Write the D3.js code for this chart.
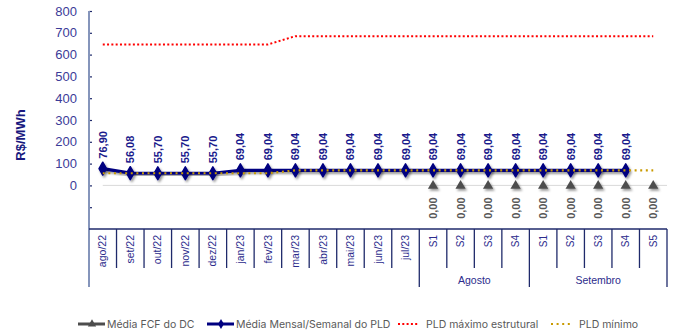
<!DOCTYPE html>
<html>
<head>
<meta charset="utf-8">
<script src="https://cdn.jsdelivr.net/npm/d3@7"></script>
<style>
  html, body { margin: 0; padding: 0; background: #fff; }
  svg { display: block; }
</style>
</head>
<body>
<svg id="chart" width="675" height="335"></svg>
<script>
// Periods on the category axis: monthly averages, then weekly values
const periods = ["ago/22", "set/22", "out/22", "nov/22", "dez/22", "jan/23", "fev/23",
  "mar/23", "abr/23", "mai/23", "jun/23", "jul/23",
  "S1", "S2", "S3", "S4",
  "S1", "S2", "S3", "S4", "S5"];

// Week groups under the weekly periods (name and number of weeks)
const weekGroups = ["Agosto", "Setembro"];
const weeksPerGroup = [4, 5];

// Média Mensal/Semanal do PLD (R$/MWh)
const pldMedio = [76.90, 56.08, 55.70, 55.70, 55.70, 69.04, 69.04,
  69.04, 69.04, 69.04, 69.04, 69.04,
  69.04, 69.04, 69.04, 69.04,
  69.04, 69.04, 69.04, 69.04, null];

// Média FCF do DC (R$/MWh)
const fcfDC = [null, null, null, null, null, null, null,
  null, null, null, null, null,
  0, 0, 0, 0,
  0, 0, 0, 0, 0];

// PLD máximo estrutural (R$/MWh)
const pldMax = [646.58, 646.58, 646.58, 646.58, 646.58, 646.58, 646.58,
  684.73, 684.73, 684.73, 684.73, 684.73,
  684.73, 684.73, 684.73, 684.73,
  684.73, 684.73, 684.73, 684.73, 684.73];

// PLD mínimo (R$/MWh)
const pldMin = [55.70, 55.70, 55.70, 55.70, 55.70, 55.70, 55.70,
  69.04, 69.04, 69.04, 69.04, 69.04,
  69.04, 69.04, 69.04, 69.04,
  69.04, 69.04, 69.04, 69.04, 69.04];

const yTicks = [-100, 0, 100, 200, 300, 400, 500, 600, 700, 800];

const fmt = v => d3.format(".2f")(v).replace(".", ",");

const svg = d3.select("#chart");
const plot = { left: 89, right: 667, top: 11, axisY: 229 };

const x = d3.scaleBand().domain(d3.range(periods.length)).range([plot.left, plot.right]).padding(0);
const cx = i => x(i) + x.bandwidth() / 2;
const y = d3.scaleLinear().domain([-200, 800]).range([plot.axisY, plot.top]);

const defs = svg.append("defs");
const f = defs.append("filter").attr("id", "shadow")
  .attr("x", "-50%").attr("y", "-50%").attr("width", "200%").attr("height", "200%");
f.append("feDropShadow").attr("dx", 1.5).attr("dy", 2).attr("stdDeviation", 1.1)
  .attr("flood-color", "#000").attr("flood-opacity", 0.4);

const labelFont = "'Liberation Sans', Arial, sans-serif";

// zero gridline
svg.append("line")
  .attr("x1", cx(0)).attr("x2", plot.right)
  .attr("y1", y(0)).attr("y2", y(0))
  .attr("stroke", "#d9d9d9").attr("stroke-width", 1);

// y axis
const yAxis = svg.append("g").attr("transform", `translate(${plot.left},0)`)
  .call(d3.axisLeft(y).tickValues(yTicks).tickSize(-3).tickPadding(12)
    .tickFormat(d => d >= 0 ? d : ""));
yAxis.select(".domain").remove();
yAxis.selectAll(".tick line").attr("stroke", "#1f2a6b").attr("stroke-width", 1.2);
yAxis.selectAll(".tick text")
  .attr("fill", "#3b3b98").attr("font-size", 13).attr("font-family", labelFont);

svg.append("line")
  .attr("x1", plot.left).attr("x2", plot.left)
  .attr("y1", plot.top).attr("y2", 287)
  .attr("stroke", "#8595bb").attr("stroke-width", 2);

svg.append("text")
  .attr("transform", `translate(25,135) rotate(-90)`)
  .attr("text-anchor", "middle")
  .attr("font-family", labelFont).attr("font-size", 13).attr("font-weight", "bold")
  .attr("fill", "#1a1a80")
  .text("R$/MWh");

// category axis
const axisColor = "#1f2a6b";
svg.append("line")
  .attr("x1", plot.left).attr("x2", plot.right)
  .attr("y1", plot.axisY).attr("y2", plot.axisY)
  .attr("stroke", axisColor).attr("stroke-width", 1.5);

// group boundaries (indices where a week group starts/ends)
const nMonths = periods.length - d3.sum(weeksPerGroup);
const groupStarts = [];
let acc = nMonths;
weeksPerGroup.forEach(n => { groupStarts.push(acc); acc += n; });
const groupEdges = new Set([...groupStarts, periods.length]);

d3.range(1, periods.length + 1).forEach(i => {
  const xx = i === periods.length ? plot.right : x(i);
  svg.append("line")
    .attr("x1", xx).attr("x2", xx)
    .attr("y1", plot.axisY).attr("y2", groupEdges.has(i) ? 287 : 268)
    .attr("stroke", axisColor).attr("stroke-width", 1.3);
});

svg.append("g").selectAll("text").data(periods).join("text")
  .attr("transform", (d, i) => `translate(${cx(i) + 3.6},235) rotate(-90)`)
  .attr("text-anchor", "end")
  .attr("font-family", labelFont)
  .attr("font-size", (d, i) => i < nMonths ? 10.5 : 10)
  .attr("fill", "#2b2b8c")
  .text(d => d);

svg.append("g").selectAll("text").data(weekGroups).join("text")
  .attr("x", (d, k) => {
    const a = x(groupStarts[k]);
    const end = groupStarts[k] + weeksPerGroup[k];
    const b = end >= periods.length ? plot.right : x(end);
    return (a + b) / 2;
  })
  .attr("y", 284)
  .attr("text-anchor", "middle")
  .attr("font-family", labelFont).attr("font-size", 10.5)
  .attr("fill", "#2b2b8c")
  .text(d => d);

// series lines
const line = d3.line().defined(d => d.v != null).x(d => cx(d.i)).y(d => y(d.v));
const asPts = arr => arr.map((v, i) => ({ i, v }));

svg.append("path").datum(asPts(pldMax))
  .attr("d", line).attr("fill", "none")
  .attr("stroke", "#ff0000").attr("stroke-width", 2).attr("stroke-dasharray", "2,2.3");

const medPts = asPts(pldMedio).filter(d => d.v != null);
svg.append("path").datum(medPts)
  .attr("d", line).attr("fill", "none")
  .attr("stroke", "#000080").attr("stroke-width", 3.2).attr("filter", "url(#shadow)");

const fcfPts = asPts(fcfDC).filter(d => d.v != null);
svg.append("path").datum(fcfPts)
  .attr("d", line).attr("fill", "none")
  .attr("stroke", "#4d4d4d").attr("stroke-width", 3.2).attr("filter", "url(#shadow)");

svg.append("g").selectAll("path").data(fcfPts).join("path")
  .attr("transform", d => `translate(${cx(d.i)},${y(d.v) + 0.5})`)
  .attr("d", d3.symbol(d3.symbolTriangle, 46))
  .attr("fill", "#4d4d4d").attr("filter", "url(#shadow)");

svg.append("g").selectAll("path").data(medPts).join("path")
  .attr("transform", d => `translate(${cx(d.i)},${y(d.v)})`)
  .attr("d", d3.symbol(d3.symbolDiamond, 48))
  .attr("fill", "#000080").attr("stroke", "#000080").attr("stroke-width", 1.5)
  .attr("stroke-linejoin", "round").attr("filter", "url(#shadow)");

svg.append("path").datum(asPts(pldMin))
  .attr("d", line).attr("fill", "none")
  .attr("stroke", "#c99a00").attr("stroke-width", 2.2).attr("stroke-dasharray", "2,3.6");

// data labels
svg.append("g").selectAll("text").data(medPts).join("text")
  .attr("transform", d => `translate(${cx(d.i) + 4},${y(d.v) - 10}) rotate(-90)`)
  .attr("text-anchor", "start")
  .attr("font-family", labelFont).attr("font-size", 11).attr("font-weight", "bold")
  .attr("fill", "#1a1a8c")
  .text(d => fmt(d.v));

svg.append("g").selectAll("text").data(fcfPts).join("text")
  .attr("transform", d => `translate(${cx(d.i) + 4},${y(d.v) + 12}) rotate(-90)`)
  .attr("text-anchor", "end")
  .attr("font-family", labelFont).attr("font-size", 11).attr("font-weight", "bold")
  .attr("fill", "#595959")
  .text(d => fmt(d.v));

// legend
const legendItems = [
  { name: "Média FCF do DC", color: "#4d4d4d", kind: "tri", x: 78 },
  { name: "Média Mensal/Semanal do PLD", color: "#000080", kind: "dia", x: 207 },
  { name: "PLD máximo estrutural", color: "#ff0000", kind: "dot", x: 398 },
  { name: "PLD mínimo", color: "#c99a00", kind: "dot", x: 551 }
];
const ly = 324;
const lg = svg.append("g");
legendItems.forEach(it => {
  const g = lg.append("g");
  if (it.kind === "dot") {
    g.append("line").attr("x1", it.x).attr("x2", it.x + 21).attr("y1", ly).attr("y2", ly)
      .attr("stroke", it.color).attr("stroke-width", 2)
      .attr("stroke-dasharray", it.color === "#ff0000" ? "2,2.3" : "2,3.6");
    g.append("text").attr("x", it.x + 28).attr("y", ly + 3.8)
      .attr("font-family", "Inter, sans-serif").attr("font-size", 10.5).attr("fill", "#595959")
      .text(it.name);
  } else {
    g.append("line").attr("x1", it.x).attr("x2", it.x + 27).attr("y1", ly).attr("y2", ly)
      .attr("stroke", it.color).attr("stroke-width", 3);
    g.append("path").attr("transform", `translate(${it.x + 14},${ly})`)
      .attr("d", d3.symbol(it.kind === "tri" ? d3.symbolTriangle : d3.symbolDiamond, 30))
      .attr("fill", it.color);
    g.append("text").attr("x", it.x + 29).attr("y", ly + 3.8)
      .attr("font-family", "Inter, sans-serif").attr("font-size", 10.5).attr("fill", "#595959")
      .text(it.name);
  }
});
</script>
</body>
</html>
